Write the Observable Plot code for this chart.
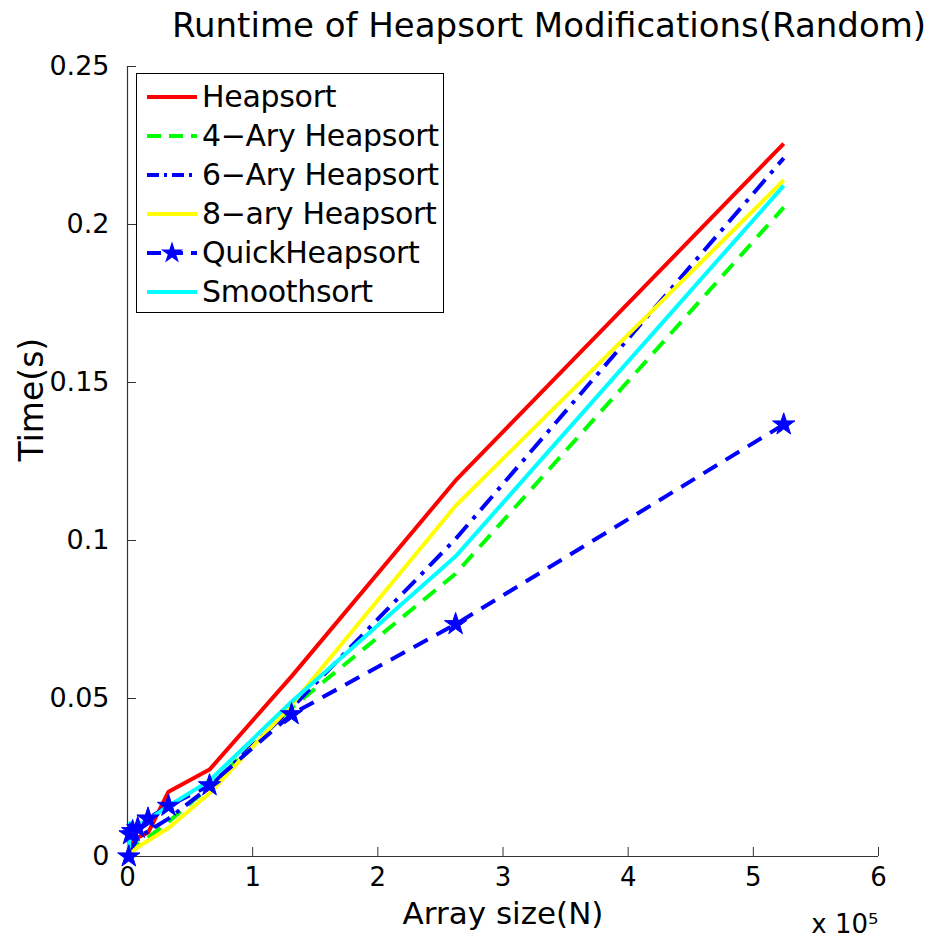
<!DOCTYPE html>
<html>
<head>
<meta charset="utf-8">
<script src="https://cdn.jsdelivr.net/npm/d3@7"></script>
<script src="https://cdn.jsdelivr.net/npm/@observablehq/plot@0.6"></script>
<style>
  html, body { margin: 0; padding: 0; background: #fff; }
  #wrap { position: relative; width: 941px; height: 940px; font-family: "DejaVu Sans", sans-serif; }
  #legend { position: absolute; left: 136px; top: 73px; width: 308px; height: 240px; border: 1.5px solid #000; background: #fff; box-sizing: border-box; padding-top: 3px; }
  .row { display: flex; align-items: center; height: 39px; }
  .row svg { margin-left: 10px; margin-right: 5px; }
  .row span { font-size: 30px; color: #000; white-space: nowrap; letter-spacing: -0.3px; }
</style>
</head>
<body>
<div id="wrap"></div>
<script>
// ---- data ----
const sizes = [1024, 2048, 4096, 8192, 16384, 32768, 65536, 131072, 262144, 524288];
const seriesNames = ["Heapsort", "4\u2212Ary Heapsort", "6\u2212Ary Heapsort", "8\u2212ary Heapsort", "QuickHeapsort", "Smoothsort"];
const heapsort      = [0.001, 0.002, 0.004, 0.006, 0.0075, 0.0205, 0.0275, 0.057, 0.119, 0.2256];
const ary4Heapsort  = [0.0005, 0.001, 0.002, 0.004, 0.006, 0.011, 0.022, 0.047, 0.0895, 0.2054];
const ary6Heapsort  = [0.001, 0.002, 0.003, 0.006, 0.008, 0.012, 0.022, 0.047, 0.1005, 0.221];
const ary8Heapsort  = [0.0005, 0.001, 0.0015, 0.003, 0.005, 0.009, 0.020, 0.048, 0.111, 0.214];
const quickHeapsort = [0.0, 0.007, 0.008, 0.009, 0.012, 0.016, 0.0225, 0.045, 0.0735, 0.1367];
const smoothsort    = [0.001, 0.011, 0.009, 0.010, 0.0115, 0.016, 0.024, 0.049, 0.095, 0.2123];
const xTicks = [0, 1e5, 2e5, 3e5, 4e5, 5e5, 6e5];
const yTicks = [0, 0.05, 0.1, 0.15, 0.2, 0.25];
const titleText = "Runtime of Heapsort Modifications(Random)";
const xLabel = "Array size(N)";
const yLabel = "Time(s)";
const xExponent = "x 10\u2075";

// ---- styles ----
const colors = ["#ff0000", "#00ff00", "#0000ff", "#ffff00", "#0000ff", "#00ffff"];
const dashes = [null, "16,10", "18,8,4,8", null, "16,10", null];

const seriesValues = [heapsort, ary4Heapsort, ary6Heapsort, ary8Heapsort, quickHeapsort, smoothsort];
const rows = seriesNames.flatMap((name, i) => sizes.map((n, j) => ({series: name, idx: i, n, t: seriesValues[i][j]})));

const lineMarks = seriesNames.map((name, i) =>
  Plot.line(rows.filter(d => d.idx === i), {
    x: "n", y: "t", stroke: colors[i], strokeWidth: 4,
    strokeDasharray: dashes[i] ?? undefined, strokeLinejoin: "miter", strokeLinecap: "butt"
  })
);

const font = "DejaVu Sans, sans-serif";
const chart = Plot.plot({
  width: 941, height: 940,
  marginLeft: 127, marginRight: 63, marginTop: 66, marginBottom: 84,
  style: {fontFamily: font, background: "#fff", color: "#000"},
  x: {domain: [0, 6e5]},
  y: {domain: [0, 0.25]},
  marks: [
    Plot.axisX({ticks: xTicks, tickFormat: d => String(d / 1e5), tickSize: -9, tickPadding: 20, fontSize: 26, label: null, stroke: "#333"}),
    Plot.axisY({ticks: yTicks, tickFormat: d => String(d), tickSize: -9, tickPadding: 27, fontSize: 27, label: null, stroke: "#333"}),
    Plot.ruleY([0], {stroke: "#333", strokeWidth: 1.2}),
    Plot.ruleX([0], {stroke: "#333", strokeWidth: 1.2}),
    ...lineMarks,
    Plot.dot(rows.filter(d => d.idx === 4), {x: "n", y: "t", symbol: "star", r: 7, fill: colors[4], stroke: colors[4], strokeWidth: 1}),
    Plot.text([titleText], {frameAnchor: "top", dy: -54, dx: 46, fontSize: 34, fill: "#000"}),
    Plot.text([xLabel], {frameAnchor: "bottom", dy: 67, fontSize: 31, fill: "#000"}),
    Plot.text([yLabel], {frameAnchor: "left", dx: -95, rotate: -90, fontSize: 33, fill: "#000"}),
    Plot.text([xExponent], {frameAnchor: "bottom-right", textAnchor: "end", dy: 76, dx: 0, fontSize: 26, fill: "#000"})
  ]
});

const wrap = document.getElementById("wrap");
wrap.appendChild(chart);

// ---- legend ----
const legend = document.createElement("div");
legend.id = "legend";
seriesNames.forEach((name, i) => {
  const row = document.createElement("div");
  row.className = "row";
  const s = d3.create("svg").attr("width", 50).attr("height", 24);
  s.append("line").attr("x1", 0).attr("x2", 50).attr("y1", 12).attr("y2", 12)
    .attr("stroke", colors[i]).attr("stroke-width", 4)
    .attr("stroke-dasharray", dashes[i] ? (i === 2 ? "12,5,3,5" : "14,8") : null);
  if (i === 4) {
    s.append("path").attr("d", d3.symbol(d3.symbolStar, Math.PI * 49)()).attr("transform", "translate(25,12)").attr("fill", colors[i]);
  }
  row.appendChild(s.node());
  const t = document.createElement("span");
  t.textContent = name;
  row.appendChild(t);
  legend.appendChild(row);
});
wrap.appendChild(legend);
</script>
</body>
</html>
